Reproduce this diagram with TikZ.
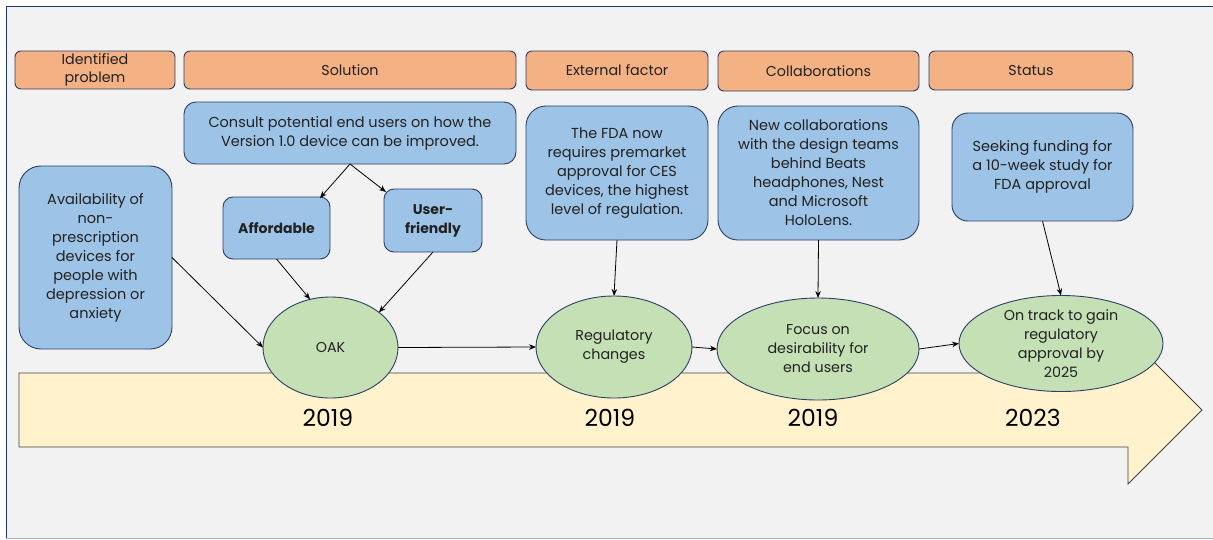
\documentclass[tikz,border=0pt]{standalone}
\usepackage{fontspec}
\setmainfont{Poppins}
\usetikzlibrary{arrows.meta,shapes.geometric}
\definecolor{pagebg}{HTML}{F2F2F2}
\definecolor{framenavy}{HTML}{1F3864}
\definecolor{framelow}{HTML}{A9B4CC}
\definecolor{hdrfill}{HTML}{F4B183}
\definecolor{boxfill}{HTML}{9DC3E6}
\definecolor{evfill}{HTML}{C5E0B4}
\definecolor{edge}{HTML}{2B3F66}
\definecolor{arrowfill}{HTML}{FFF2CC}
\definecolor{txt}{HTML}{222222}
\begin{document}
\begin{tikzpicture}[x=1pt,y=-1pt,
  every node/.style={inner sep=0pt,outer sep=0pt,text=txt,align=center},
  hdr/.style={draw=edge,line width=0.9pt,fill=hdrfill,rounded corners=6pt,
    font=\fontsize{14.3}{18}\selectfont},
  infobox/.style={draw=edge,line width=0.9pt,fill=boxfill,
    font=\fontsize{14.5}{19}\selectfont},
  event/.style={ellipse,draw=edge,line width=0.9pt,fill=evfill,
    font=\fontsize{14.3}{19}\selectfont},
  year/.style={font=\fontsize{23.5}{26}\selectfont,text=black},
  link/.style={draw=black,line width=0.8pt,-{Stealth[length=7pt,width=5.5pt]}},
  sz/.style n args={2}{minimum width=#1pt,minimum height=#2pt}]

% canvas and frame
\useasboundingbox (0,0) rectangle (1213,539);
\fill[white] (0,0) rectangle (1213,539);
\fill[pagebg] (6,6) rectangle (1213,538);
\draw[framenavy,line width=1pt] (6,538) -- (6,6) -- (1213,6);
\draw[framelow,line width=1pt] (6,538) -- (1213,538);

% timeline arrow
\draw[fill=arrowfill,draw=black!75,line width=0.8pt]
  (19,373) -- (1128,373) -- (1128,336) -- (1202,410) -- (1128,484)
  -- (1128,447) -- (19,447) -- cycle;

% column headers
\node[hdr,sz={160}{38}] (hprob) at (95,70) {Identified\\problem};
\node[hdr,sz={332}{38}] (hsol) at (350,70) {Solution};
\node[hdr,sz={182}{39}] (hext) at (617,70.5) {External factor};
\node[hdr,sz={201}{40}] (hcol) at (818.5,71) {Collaborations};
\node[hdr,sz={204}{39}] (hstat) at (1031,70.5) {Status};

% information boxes
\node[infobox,sz={332}{62},rounded corners=12pt] (consult) at (350,133)
  {Consult potential end users on how the\\Version 1.0 device can be improved.};
\node[infobox,sz={153}{183},rounded corners=22pt] (avail) at (95.5,257.5)
  {Availability of\\non-\\prescription\\devices for\\people with\\depression or\\anxiety};
\node[infobox,sz={107}{62},rounded corners=10pt,font=\fontsize{14}{19}\selectfont\bfseries] (afford) at (276.5,228)
  {Affordable};
\node[infobox,sz={98}{63},rounded corners=10pt,font=\fontsize{14}{19}\selectfont\bfseries] (user) at (433,220.5)
  {User-\\friendly};
\node[infobox,sz={182}{134},rounded corners=20pt] (fda) at (617,173)
  {The FDA now\\requires premarket\\approval for CES\\devices, the highest\\level of regulation.};
\node[infobox,sz={201}{134},rounded corners=20pt] (collab) at (818.5,173)
  {New collaborations\\with the design teams\\behind Beats\\headphones, Nest\\and Microsoft\\HoloLens.};
\node[infobox,sz={181}{108},rounded corners=16pt] (seek) at (1042.5,167)
  {Seeking funding for\\a 10-week study for\\FDA approval};

% timeline events
\node[event,sz={135}{101}] (oak) at (330.5,347.5) {OAK};
\node[event,sz={156}{102}] (reg) at (614,347) {Regulatory\\changes};
\node[event,sz={202}{102}] (focus) at (818,349) {Focus on\\desirability for\\end users};
\node[event,sz={204}{87}] (track) at (1061,343.5) {On track to gain\\regulatory\\approval by\\2025};

% years
\node[year] (y1) at (328,418) {2019};
\node[year] (y2) at (610,418) {2019};
\node[year] (y3) at (813,418) {2019};
\node[year] (y4) at (1033,418) {2023};

% connectors
\draw[link] (consult.south) -- ([xshift=-10pt,yshift=-1pt]afford.north east);
\draw[link] (consult.south) -- ([xshift=2pt,yshift=-3pt]user.north west);
\draw[link] (afford.south) -- (oak.113);
\draw[link] (user.south) -- (oak.36);
\draw[link] (avail.east) -- (oak.west);
\draw[link] (oak.east) -- (reg.west);
\draw[link] (reg.east) -- (focus.west);
\draw[link] (focus.east) -- (track.west);
\draw[link] (fda.south) -- (reg.north);
\draw[link] (collab.south) -- (focus.north);
\draw[link] (seek.south) -- (track.north);
\end{tikzpicture}
\end{document}
